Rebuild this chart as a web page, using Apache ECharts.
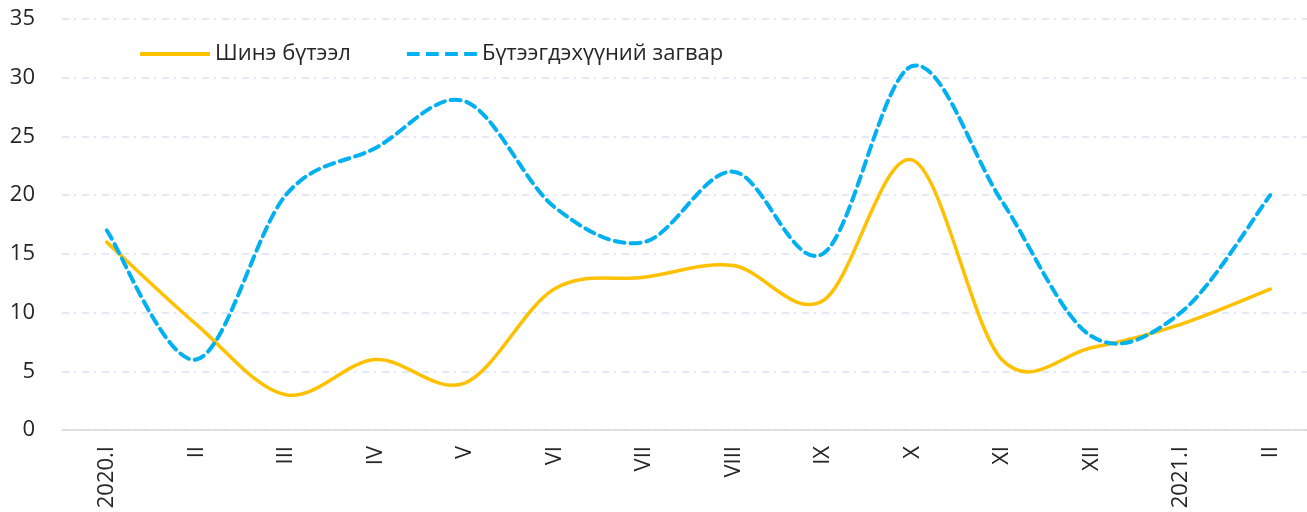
<!DOCTYPE html>
<html>
  <head>
    <meta charset="utf-8" />
    <script src="https://cdn.jsdelivr.net/npm/echarts@6/dist/echarts.min.js"></script>
    <style>
      html, body { margin: 0; padding: 0; background: #fff; overflow: hidden; }
      /* plot area runs a little past the right edge of the window, as in the original */
      #main { width: 1315px; height: 512px; }
    </style>
  </head>

  <body>
    <div id="main"></div>
    <script type="text/javascript">
      // categories (months)
      var months = ['2020.I', 'II', 'III', 'IV', 'V', 'VI', 'VII', 'VIII', 'IX', 'X', 'XI', 'XII', '2021.I', 'II'];
      // series values
      var inventions = [16, 9, 3, 6, 4, 12, 13, 14, 11, 23, 6, 7, 9, 12];
      var designs = [17, 6, 20, 24, 28, 19, 16, 22, 15, 31, 19.5, 8, 10, 20];

      var myChart = echarts.init(document.getElementById('main'));

      var font = '"Open Sans", sans-serif';

      // excel-like smoothed line (catmull-rom through the data points)
      function smoothLine(values, color, width, dash) {
        return function (params, api) {
          var pts = values.map(function (v, i) { return api.coord([i, v]); });
          var d = 'M' + pts[0][0] + ' ' + pts[0][1];
          for (var i = 0; i < pts.length - 1; i++) {
            var p0 = pts[i - 1] || pts[i];
            var p1 = pts[i];
            var p2 = pts[i + 1];
            var p3 = pts[i + 2] || pts[i + 1];
            var c1x = p1[0] + (p2[0] - p0[0]) / 6;
            var c1y = p1[1] + (p2[1] - p0[1]) / 6;
            var c2x = p2[0] - (p3[0] - p1[0]) / 6;
            var c2y = p2[1] - (p3[1] - p1[1]) / 6;
            d += ' C' + c1x + ' ' + c1y + ' ' + c2x + ' ' + c2y + ' ' + p2[0] + ' ' + p2[1];
          }
          return {
            type: 'path',
            shape: { pathData: d },
            style: {
              fill: 'none',
              stroke: color,
              lineWidth: width,
              lineDash: dash || null,
              lineCap: 'round'
            }
          };
        };
      }

      var option = {
        animation: false,
        textStyle: { fontFamily: font },
        legend: {
          left: 135,
          top: 38,
          itemWidth: 70,
          itemHeight: 4,
          itemGap: 56,
          symbolKeepAspect: false,
          textStyle: { fontSize: 22, color: '#262626', fontFamily: font },
          data: [
            { name: 'Шинэ бүтээл', icon: 'rect' },
            {
              name: 'Бүтээгдэхүүний загвар',
              icon: 'path://M0 0h12v4h-12z M18 0h12v4h-12z M36 0h12v4h-12z M54 0h12v4h-12z'
            }
          ]
        },
        grid: {
          left: 62,
          top: 19,
          bottom: 82,
          right: 0
        },
        xAxis: {
          type: 'category',
          data: months,
          boundaryGap: true,
          axisLine: { lineStyle: { color: '#d9d9d9', width: 1.5 } },
          axisTick: { show: false },
          axisLabel: {
            rotate: 90,
            margin: 16,
            fontSize: 22,
            color: '#262626',
            fontFamily: font
          }
        },
        yAxis: {
          type: 'value',
          min: 0,
          max: 35,
          interval: 5,
          axisLine: { show: false },
          axisTick: { show: false },
          axisLabel: {
            margin: 27,
            fontSize: 22,
            color: '#262626',
            fontFamily: font
          },
          splitLine: {
            lineStyle: { color: '#d9e1f2', width: 1.5, type: [7, 5, 2, 6] }
          }
        },
        series: [
          {
            name: 'Шинэ бүтээл',
            type: 'custom',
            coordinateSystem: 'cartesian2d',
            data: [[0, inventions[0]]],
            itemStyle: { color: '#FFC000' },
            renderItem: smoothLine(inventions, '#FFC000', 3.5)
          },
          {
            name: 'Бүтээгдэхүүний загвар',
            type: 'custom',
            coordinateSystem: 'cartesian2d',
            data: [[0, designs[0]]],
            itemStyle: { color: '#00B0F0' },
            renderItem: smoothLine(designs, '#00B0F0', 4, [10, 6])
          }
        ]
      };

      myChart.setOption(option);
    </script>
  </body>

</html>
